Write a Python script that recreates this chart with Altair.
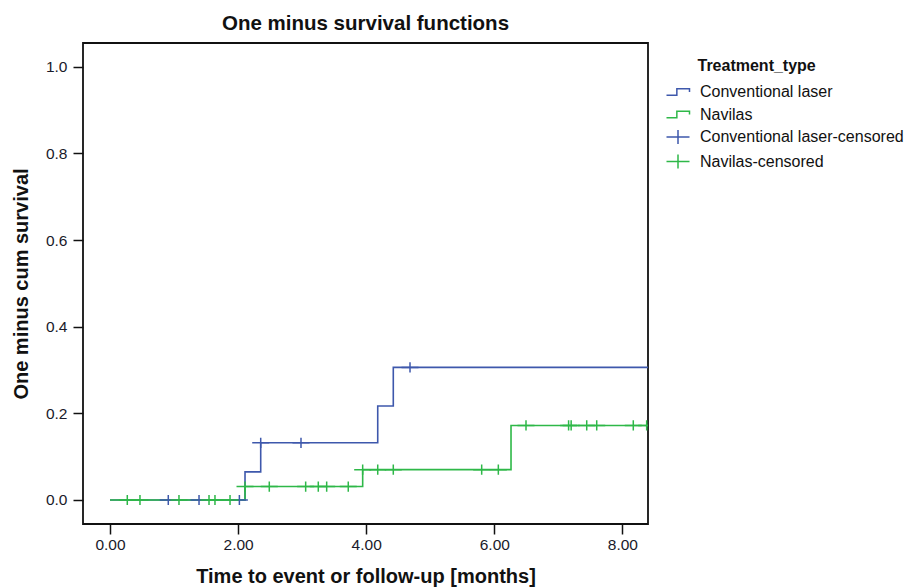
import altair as alt
import pandas as pd

# ---------------- data ----------------
series_names = ["Conventional laser", "Navilas",
                "Conventional laser-censored", "Navilas-censored"]
series_colors = ["#3E58AC", "#2EB848", "#3E58AC", "#2EB848"]

# step curves (time in months, one minus cumulative survival)
conv_step_time = [0.0, 2.108, 2.353, 4.18, 4.423, 8.45]
conv_step_value = [0.0, 0.065, 0.132, 0.217, 0.306, 0.306]
nav_step_time = [0.0, 2.108, 3.945, 6.261, 8.45]
nav_step_value = [0.0, 0.031, 0.070, 0.172, 0.172]

# censored observations
conv_cens_time = [0.91, 1.39, 2.02, 2.353, 2.982, 4.684]
conv_cens_value = [0.0, 0.0, 0.0, 0.132, 0.132, 0.306]
nav_cens_time = [0.27, 0.468, 1.077, 1.546, 1.639, 1.874,
                 2.108, 2.487, 3.055, 3.252, 3.383, 3.72,
                 3.945, 4.18, 4.423, 5.803, 6.063,
                 6.495, 7.16, 7.20, 7.443, 7.599, 8.17, 8.379]
nav_cens_value = [0.0] * 6 + [0.031] * 6 + [0.070] * 5 + [0.172] * 7

x_ticks = [0, 2, 4, 6, 8]
y_ticks = [0.0, 0.2, 0.4, 0.6, 0.8, 1.0]

# ---------------- tables ----------------
steps = pd.concat([
    pd.DataFrame({"time": conv_step_time, "value": conv_step_value,
                  "series": series_names[0], "col": series_colors[0]}),
    pd.DataFrame({"time": nav_step_time, "value": nav_step_value,
                  "series": series_names[1], "col": series_colors[1]}),
], ignore_index=True)

cens = pd.concat([
    pd.DataFrame({"time": conv_cens_time, "value": conv_cens_value,
                  "series": series_names[2]}),
    pd.DataFrame({"time": nav_cens_time, "value": nav_cens_value,
                  "series": series_names[3]}),
], ignore_index=True)

FONT = "Liberation Sans"
STEP_PATH = "M-1,0.28L-0.1,0.28L-0.1,-0.28L1,-0.28L1,0"
PLUS_PATH = "M-1,0L1,0M0,-0.6L0,0.6"

color_scale = alt.Scale(domain=series_names, range=series_colors)
shape_scale = alt.Scale(domain=series_names,
                        range=[STEP_PATH, STEP_PATH, PLUS_PATH, PLUS_PATH])

x_enc = alt.X("time:Q",
              scale=alt.Scale(domain=[-0.4215, 8.3997], nice=False, zero=False),
              axis=alt.Axis(values=x_ticks, format=".2f",
                            title="Time to event or follow-up [months]",
                            labelPadding=3, titlePadding=14))
y_enc = alt.Y("value:Q",
              scale=alt.Scale(domain=[-0.0554, 1.0547], nice=False, zero=False),
              axis=alt.Axis(values=y_ticks, format=".1f",
                            title="One minus cum survival",
                            labelPadding=6, titlePadding=14))

legend = alt.Legend(
    title="\u200b\u2002\u2002\u2002\u2002Treatment_type",
    orient="none", legendX=582.5, legendY=14.5,
    symbolSize=529, symbolStrokeWidth=1.5, labelOffset=9.5,
    rowPadding=1.5, padding=0, titlePadding=6, labelLimit=400,
    labelFontSize=16, labelFont=FONT, labelColor="#111",
    titleFontSize=16, titleFont=FONT, titleFontWeight="bold",
    titleColor="#111", titleAlign="left", titleAnchor="start", titleLimit=400,
)

lines = alt.Chart(steps).mark_line(
    interpolate="step-after", strokeWidth=1.6, clip=True
).encode(
    x=x_enc, y=y_enc,
    color=alt.Color("col:N", scale=None),
    detail="series:N",
)

marks = alt.Chart(cens).mark_point(
    filled=False, size=289, strokeWidth=1.5, opacity=1, clip=True
).encode(
    x=x_enc, y=y_enc,
    color=alt.Color("series:N", scale=color_scale, legend=legend),
    shape=alt.Shape("series:N", scale=shape_scale, legend=legend),
)

chart = alt.layer(lines, marks).properties(
    width=565, height=481,
    padding={"left": 83, "top": 43, "right": 258, "bottom": 63},
    autosize=alt.AutoSizeParams(type="none"),
    background="white",
    title=alt.TitleParams("One minus survival functions", fontSize=20.5,
                          fontWeight="bold", font=FONT, color="#111",
                          offset=9, anchor="middle"),
).configure_view(
    stroke="#111", strokeWidth=1.8
).configure_axis(
    domain=False, grid=False,
    tickColor="#111", tickWidth=1.5, tickSize=10,
    labelFont=FONT, labelFontSize=15.5, labelColor="#1a1a2a",
    titleFont=FONT, titleFontSize=20, titleFontWeight="bold", titleColor="#111",
)

chart.save("out.html", embed_options={"renderer": "svg", "actions": False})
